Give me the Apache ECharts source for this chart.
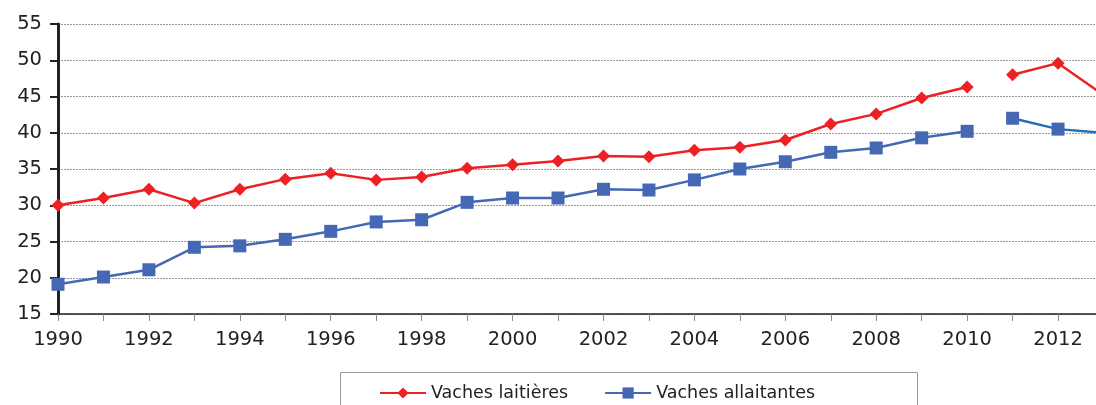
<!DOCTYPE html>
<html lang="fr">
<head>
    <meta charset="UTF-8" />
    <title>Vaches</title>
    <script src="https://cdn.jsdelivr.net/npm/echarts@6/dist/echarts.min.js"></script>
    <style>
        * { margin: 0; padding: 0; }
        #main { width: 1096px; height: 405px; overflow: hidden; }
    </style>
</head>
<body>
    <div id="main"></div>
<script>
    const years = ["1990", "1991", "1992", "1993", "1994", "1995", "1996", "1997", "1998", "1999", "2000", "2001",
        "2002", "2003", "2004", "2005", "2006", "2007", "2008", "2009", "2010", "2011", "2012", "2013"];
    // la série est coupée entre 2010 et 2011
    const laitieres = [30.0, 31.0, 32.2, 30.3, 32.2, 33.6, 34.4, 33.5, 33.9, 35.1, 35.6, 36.1,
        36.8, 36.7, 37.6, 38.0, 39.0, 41.2, 42.6, 44.8, 46.3, 48.0, 49.6, 45.2];
    const allaitantes = [19.1, 20.1, 21.1, 24.2, 24.4, 25.3, 26.4, 27.7, 28.0, 30.4, 31.0, 31.0,
        32.2, 32.1, 33.5, 35.0, 36.0, 37.3, 37.9, 39.3, 40.2, 42.0, 40.5, 40.0];
    const breakIndex = 21;
    const yTicks = [15, 20, 25, 30, 35, 40, 45, 50, 55];

    function part(arr, before) {
        return arr.map((v, i) => (before ? (i < breakIndex ? v : null) : (i >= breakIndex ? v : null)));
    }

    var myChart = echarts.init(document.getElementById("main"));
    var font = "DejaVu Sans";
    var red = "#ED2024";
    var blue = "#4468B4";

    function serie(name, data, color, symbol, size, lineColor) {
        return {
            name: name,
            type: "line",
            data: data,
            symbol: symbol,
            symbolSize: size,
            connectNulls: false,
            itemStyle: { color: color },
            lineStyle: { color: lineColor || color, width: 2.5 },
            emphasis: { disabled: true },
            animation: false
        };
    }

    var option = {
        animation: false,
        textStyle: { fontFamily: font },
        grid: { left: 58, top: 24, height: 290, width: 1045.5, containLabel: false, outerBoundsMode: "none" },
        xAxis: {
            type: "category",
            data: years,
            boundaryGap: false,
            axisLine: { lineStyle: { color: "#222", width: 1.5 } },
            axisTick: { show: true, alignWithLabel: true, interval: 0, length: 7, lineStyle: { color: "#888" } },
            axisLabel: { interval: 1, color: "#222", fontSize: 19.5, margin: 16, fontFamily: font },
            splitLine: { show: false }
        },
        yAxis: {
            type: "value",
            min: yTicks[0],
            max: yTicks[yTicks.length - 1],
            interval: 5,
            axisLine: { show: true, lineStyle: { color: "#222", width: 3 } },
            axisTick: { show: true, length: 8, lineStyle: { color: "#222", width: 2 } },
            axisLabel: { color: "#222", fontSize: 19.5, margin: 16, fontFamily: font },
            splitLine: { show: true, lineStyle: { color: "#999", type: [2, 1], width: 1 } }
        },
        legend: {
            data: ["Vaches laitières", "Vaches allaitantes"],
            left: 374,
            top: 379,
            itemWidth: 46,
            itemHeight: 14,
            itemGap: 36,
            textStyle: { fontSize: 17.5, color: "#222", fontFamily: font },
            selectedMode: false
        },
        graphic: [{
            type: "rect",
            shape: { x: 340.5, y: 372.5, width: 577, height: 40 },
            style: { fill: "none", stroke: "#999", lineWidth: 1 }
        }],
        series: [
            serie("Vaches laitières", part(laitieres, true), red, "diamond", 13),
            serie("Vaches laitières", part(laitieres, false), red, "diamond", 13),
            serie("Vaches allaitantes", part(allaitantes, true), blue, "rect", 13),
            serie("Vaches allaitantes", part(allaitantes, false), blue, "rect", 13, "#2370B8")
        ]
    };
    option && myChart.setOption(option);
</script>
</body>
</html>
